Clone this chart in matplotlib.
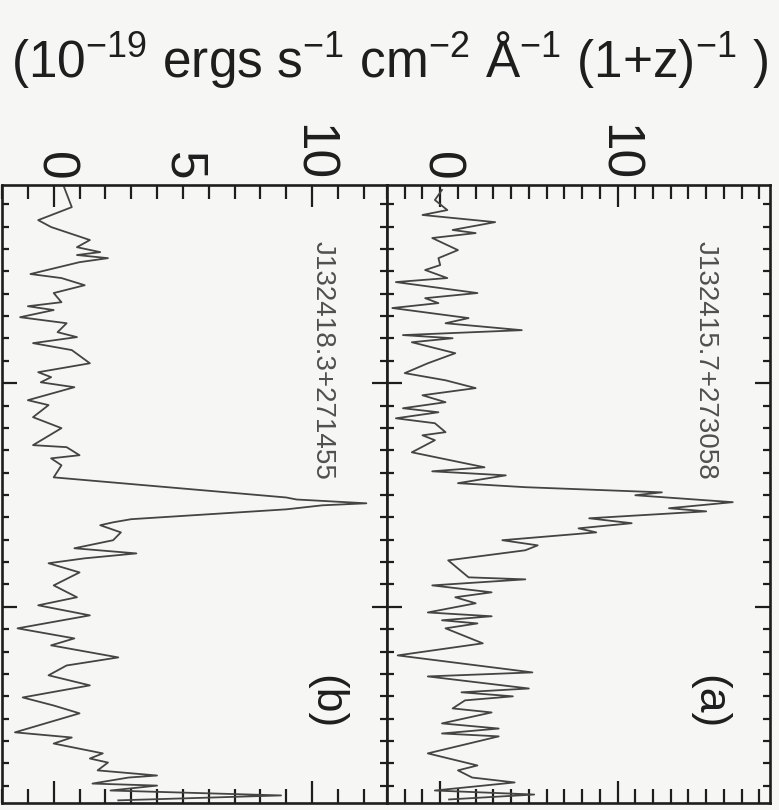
import numpy as np
import matplotlib.pyplot as plt
from matplotlib.ticker import MultipleLocator, FuncFormatter

plt.rcParams['font.family'] = ['Liberation Sans', 'DejaVu Sans']
plt.rcParams['mathtext.fontset'] = 'custom'
plt.rcParams['mathtext.rm'] = 'Liberation Sans'
plt.rcParams['mathtext.it'] = 'Liberation Sans:italic'
plt.rcParams['mathtext.default'] = 'regular'

# observed wavelength range (A) shared by both spectra
WAVE_MIN, WAVE_MAX = 8011.4, 8287.7

# (b) J132418.3+271455
wave_b = [8012.3, 8021.3, 8027.1, 8030.2, 8036.0, 8039.2, 8041.4, 8042.7, 8044.1, 8045.9,
          8051.2, 8053.0, 8056.2, 8059.7, 8063.8, 8065.6, 8067.3, 8070.5, 8073.2, 8077.2,
          8079.4, 8082.1, 8085.2, 8091.1, 8095.1, 8097.3, 8099.6, 8101.8, 8107.6, 8109.8,
          8115.2, 8120.1, 8127.7, 8128.6, 8132.2, 8133.6, 8136.7, 8142.1, 8151.1, 8152.0,
          8153.7, 8154.6, 8156.4, 8160.8, 8162.2, 8163.5, 8166.7, 8170.2, 8173.8, 8176.1,
          8178.3, 8180.5, 8184.6, 8190.4, 8195.7, 8199.3, 8203.8, 8209.6, 8214.1, 8217.2,
          8222.6, 8226.2, 8230.6, 8235.1, 8240.5, 8244.1, 8247.6, 8256.1, 8258.4, 8261.1,
          8265.5, 8267.8, 8269.6, 8273.1, 8275.4, 8276.3, 8279.0, 8279.9, 8282.1, 8284.3,
          8286.5]
flux_b = [0.4, 0.7, -0.6, -0.1, 1.4, 0.9, 1.8, 0.9, 2.1, 1.0,
          -0.9, 0.3, 1.2, 0.0, 0.3, -1.0, 0.0, -1.3, 0.5, 0.15,
          0.9, -0.8, 0.7, 1.4, -0.6, -0.1, -0.5, 0.8, -1.0, -0.2,
          -0.8, 0.3, -0.8, 0.5, 1.0, -0.1, 0.3, 0.0, 9.0, 9.4,
          12.1, 10.4, 9.0, 3.0, 2.3, 1.8, 2.6, 2.3, 0.8, 3.2,
          1.2, -0.2, 1.0, 0.0, 0.9, -0.6, 1.4, -1.4, 0.8, -0.1,
          2.5, 0.5, -0.2, 1.4, -1.2, 0.0, 1.0, -1.5, 0.7, 0.0,
          1.9, 1.4, 2.1, 1.7, 4.0, 2.9, 1.5, 4.0, 2.2, 8.8,
          2.5]

# (a) J132415.7+273058
wave_a = [8013.6, 8018.1, 8022.6, 8024.8, 8028.0, 8031.5, 8032.9, 8035.1, 8040.5, 8044.1,
          8047.2, 8049.4, 8053.0, 8054.8, 8059.7, 8062.0, 8064.2, 8066.4, 8070.9, 8073.2,
          8076.3, 8078.5, 8079.9, 8081.7, 8086.6, 8091.1, 8095.5, 8098.7, 8102.2, 8105.4,
          8108.5, 8111.2, 8113.0, 8115.7, 8117.9, 8121.9, 8123.3, 8125.5, 8130.9, 8137.6,
          8139.4, 8141.2, 8144.7, 8146.5, 8148.3, 8148.8, 8150.1, 8153.2, 8155.9, 8157.3,
          8160.4, 8162.6, 8164.9, 8166.7, 8170.2, 8172.5, 8174.7, 8179.2, 8186.8, 8187.7,
          8190.4, 8193.5, 8195.7, 8198.4, 8202.5, 8204.2, 8206.0, 8207.4, 8209.6, 8216.3,
          8221.7, 8229.3, 8231.1, 8236.5, 8238.2, 8240.0, 8241.8, 8245.4, 8247.2, 8252.1,
          8254.4, 8256.6, 8257.9, 8265.5, 8270.9, 8273.1, 8276.3, 8278.5, 8282.1, 8283.9,
          8286.1]
flux_a = [0.1, -0.3, 0.4, -1.0, 3.1, 0.7, 2.0, -0.45, 1.0, -0.1,
          0.0, -0.85, 0.4, -2.5, 2.1, -0.85, -0.1, -2.7, 1.6, 0.3,
          4.6, -2.1, 0.7, -1.6, 0.85, -0.7, -2.0, 0.3, 2.0, -1.0,
          0.3, -2.1, -0.1, -2.5, -0.3, 0.3, -1.0, -0.3, -1.6, 2.5,
          -0.45, 3.7, 1.0, 4.8, 10.8, 12.5, 11.0, 16.5, 12.9, 15.0,
          8.4, 10.8, 7.8, 8.8, 3.5, 5.5, 4.8, 0.45, 1.6, 4.8,
          -0.45, 2.9, 0.85, 2.0, -0.7, 2.9, 0.1, 2.1, 0.3, 2.4,
          -2.4, 5.2, -0.7, 5.0, 1.2, 4.1, 1.4, 0.7, 2.9, 0.1,
          3.3, 0.1, 3.3, -0.7, 2.1, 1.0, 1.8, 4.2, -0.3, 5.3,
          0.5]

BG = '#f6f7f5'
INK = '#1e1e1e'


def draw_panel(ax, wave, flux, xlim, majors, extra_label, name, letter):
    ax.set_facecolor(BG)
    ax.plot(flux, wave, color='#444444', lw=1.3)
    ax.set_xlim(xlim)
    ax.set_ylim(WAVE_MAX, WAVE_MIN)

    # flux axis runs along the top, labels rotated with the page
    ax.set_xticks(majors)
    ax.xaxis.set_minor_locator(MultipleLocator(1))
    ax.tick_params(axis='x', which='both', direction='in', top=True, bottom=True,
                   labeltop=True, labelbottom=False, labelrotation=-90, pad=3,
                   labelsize=37, width=1.6, color=INK, labelcolor=INK)
    ax.tick_params(axis='x', which='major', length=16)
    ax.tick_params(axis='x', which='minor', length=10)
    if extra_label is not None:
        ax.xaxis.set_minor_formatter(FuncFormatter(
            lambda v, p: '%d' % extra_label if abs(v - extra_label) < 1e-6 else ''))

    # wavelength axis, no labels
    ax.yaxis.set_major_locator(MultipleLocator(100))
    ax.yaxis.set_minor_locator(MultipleLocator(10))
    ax.tick_params(axis='y', which='both', direction='in', left=True, right=True,
                   labelleft=False, width=1.6, color=INK)
    ax.tick_params(axis='y', which='major', length=11)
    ax.tick_params(axis='y', which='minor', length=5)

    for sp in ax.spines.values():
        sp.set_linewidth(1.9)
        sp.set_color(INK)

    ax.text(0.833, 0.91, name, transform=ax.transAxes, rotation=-90,
            ha='center', va='top', fontsize=20, color='#505050')
    ax.text(0.84, 0.163, letter, transform=ax.transAxes, rotation=-90,
            ha='center', va='center', fontsize=32, color=INK)


fig = plt.figure(figsize=(7.79, 8.10), dpi=100, facecolor=BG)
ax_b = fig.add_axes([0.0026, 0.0086, 0.4942, 0.763])
ax_a = fig.add_axes([0.4968, 0.0086, 0.4917, 0.763])

draw_panel(ax_b, wave_b, flux_b, (-2, 12.9), [0, 10], 5, 'J132418.3+271455', '(b)')
draw_panel(ax_a, wave_a, flux_a, (-3, 18.6), [0, 10], None, 'J132415.7+273058', '(a)')

fig.text(0.5, 1 - 60 / 810,
         r'(10$^{-19}$ ergs s$^{-1}$ cm$^{-2}$ Å$^{-1}$ (1+z)$^{-1}$ )',
         ha='center', va='center', fontsize=37, color=INK)

fig.savefig('out.png', dpi=100, facecolor=BG)
